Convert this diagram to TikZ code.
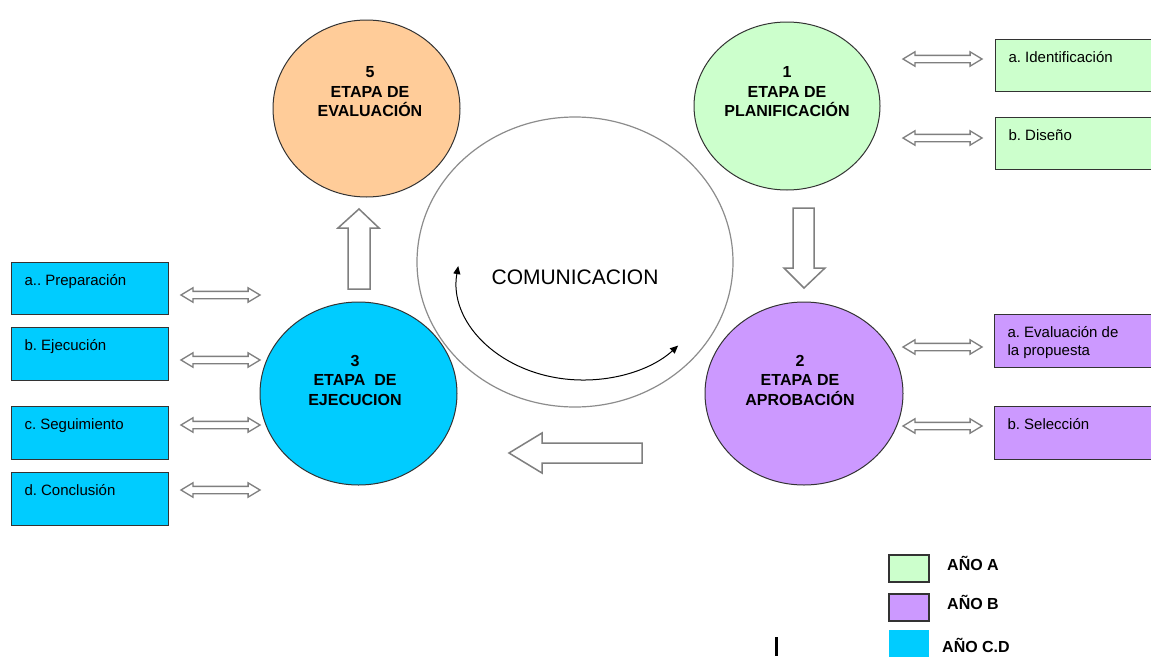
\documentclass[tikz,border=0pt]{standalone}
\usepackage{fontspec}
\setmainfont{Liberation Sans}
\usetikzlibrary{shapes.geometric,shapes.arrows,arrows.meta}
\definecolor{cOrange}{HTML}{FFCC99}
\definecolor{cGreen}{HTML}{CCFFCC}
\definecolor{cPurple}{HTML}{CC99FF}
\definecolor{cCyan}{HTML}{00CCFF}
\definecolor{cLine}{HTML}{333333}
\definecolor{cArrow}{HTML}{7F7F7F}
\definecolor{cRing}{HTML}{8C8C8C}
\frenchspacing
\begin{document}
\begin{tikzpicture}[x=1pt,y=-1pt,
 stage/.style={ellipse, draw=cLine, line width=1pt, inner sep=0pt},
 stagetext/.style={font=\fontsize{16}{19.5}\selectfont\bfseries, align=center, inner sep=0pt},
 box/.style={draw=cLine, line width=1pt, anchor=north west, inner xsep=13pt, inner ysep=12pt, font=\fontsize{15}{18}\selectfont},
 dbl/.style={double arrow, draw=cArrow, line width=1.3pt, fill=white, inner sep=3pt, minimum height=79pt, minimum width=0pt, double arrow head extend=3.5pt, double arrow tip angle=62},
 bigarrow/.style={draw=cArrow, line width=1.5pt, fill=white, line join=miter},
 legbox/.style={draw=cLine, line width=1.5pt},
 legtext/.style={font=\fontsize{16}{19}\selectfont\bfseries, anchor=west, inner sep=0pt},
 tip/.tip={Triangle[length=8pt,width=7pt]}
]
\useasboundingbox (0,0) rectangle (1151,656);
\clip (0,0) rectangle (1151,656);
\fill[white] (0,0) rectangle (1151,656);

% communication ring
\node[ellipse, draw=cRing, line width=1.2pt, minimum width=316pt, minimum height=290pt, inner sep=0pt] (comm) at (575,262) {};
\node[font=\fontsize{21}{24}\selectfont, inner sep=0pt] (commtext) at (575,277) {COMUNICACION};
\coordinate (arcc) at (583,280);
\draw[line width=1pt, tip-tip] ([shift={(188:126 and 100)}]arcc) arc[start angle=188, end angle=41, x radius=126, y radius=100];

% stages
\node[stage, fill=cOrange, minimum width=187pt, minimum height=177pt] (s5) at (366.5,108.5) {};
\node[stagetext] (s5t) at (370,92) {5\\ETAPA DE\\EVALUACIÓN};
\node[stage, fill=cGreen, minimum width=186pt, minimum height=168pt] (s1) at (787,106) {};
\node[stagetext] (s1t) at (787,92) {1\\ETAPA DE\\PLANIFICACIÓN};
\node[stage, fill=cPurple, minimum width=198pt, minimum height=183pt] (s2) at (804,393.5) {};
\node[stagetext] (s2t) at (800,380) {2\\ETAPA DE\\APROBACIÓN};
\node[stage, fill=cCyan, minimum width=197pt, minimum height=183pt] (s3) at (358.5,393.5) {};
\node[stagetext] (s3t) at (355,380) {3\\ETAPA\ \ DE\\EJECUCION};

% big arrows
\draw[bigarrow] (348,289) -- (348,228) -- (338,228) -- (359,209) -- (379,228) -- (370,228) -- (370,289) -- cycle;
\draw[bigarrow] (793,208) -- (814,208) -- (814,268) -- (825,268) -- (804,288) -- (784,268) -- (793,268) -- cycle;
\draw[bigarrow] (642,443) -- (542,443) -- (542,433) -- (509,453) -- (542,473) -- (542,463) -- (642,463) -- cycle;

% right boxes
\node[box, fill=cGreen] (ra) at (995,39) {\parbox[t][28pt][t]{130pt}{a. Identificación}};
\node[box, fill=cGreen] (rb) at (995,117) {\parbox[t][28pt][t]{130pt}{b. Diseño}};
\node[box, fill=cPurple] (rc) at (994,314) {\parbox[t][29pt][t]{131pt}{a. Evaluación de\\la propuesta}};
\node[box, fill=cPurple] (rd) at (994,406) {\parbox[t][29pt][t]{131pt}{b. Selección}};

% left boxes
\node[box, fill=cCyan] (la) at (11,262) {\parbox[t][28pt][t]{131pt}{a.. Preparación}};
\node[box, fill=cCyan] (lb) at (11,327) {\parbox[t][29pt][t]{131pt}{b. Ejecución}};
\node[box, fill=cCyan] (lc) at (11,406) {\parbox[t][29pt][t]{131pt}{c. Seguimiento}};
\node[box, fill=cCyan] (ld) at (11,472) {\parbox[t][29pt][t]{131pt}{d. Conclusión}};

% double arrows
\node[dbl] (dra) at (942.5,59) {};
\node[dbl] (drb) at (942.5,138) {};
\node[dbl] (drc) at (942.5,347) {};
\node[dbl] (drd) at (942.5,426) {};
\node[dbl] (dla) at (220.5,295) {};
\node[dbl] (dlb) at (220.5,360) {};
\node[dbl] (dlc) at (220.5,425) {};
\node[dbl] (dld) at (220.5,490) {};

% legend
\draw[legbox, fill=cGreen] (889,555) rectangle (929,582);
\draw[legbox, fill=cPurple] (889,594) rectangle (929,621);
\fill[cCyan] (889,630) rectangle (929,670);
\node[legtext] (la1) at (947,563) {AÑO A};
\node[legtext] (la2) at (947,602) {AÑO B};
\node[legtext] (la3) at (942,645) {AÑO C.D};
\draw[line width=3pt] (776,637) -- (776,656);
\end{tikzpicture}
\end{document}
